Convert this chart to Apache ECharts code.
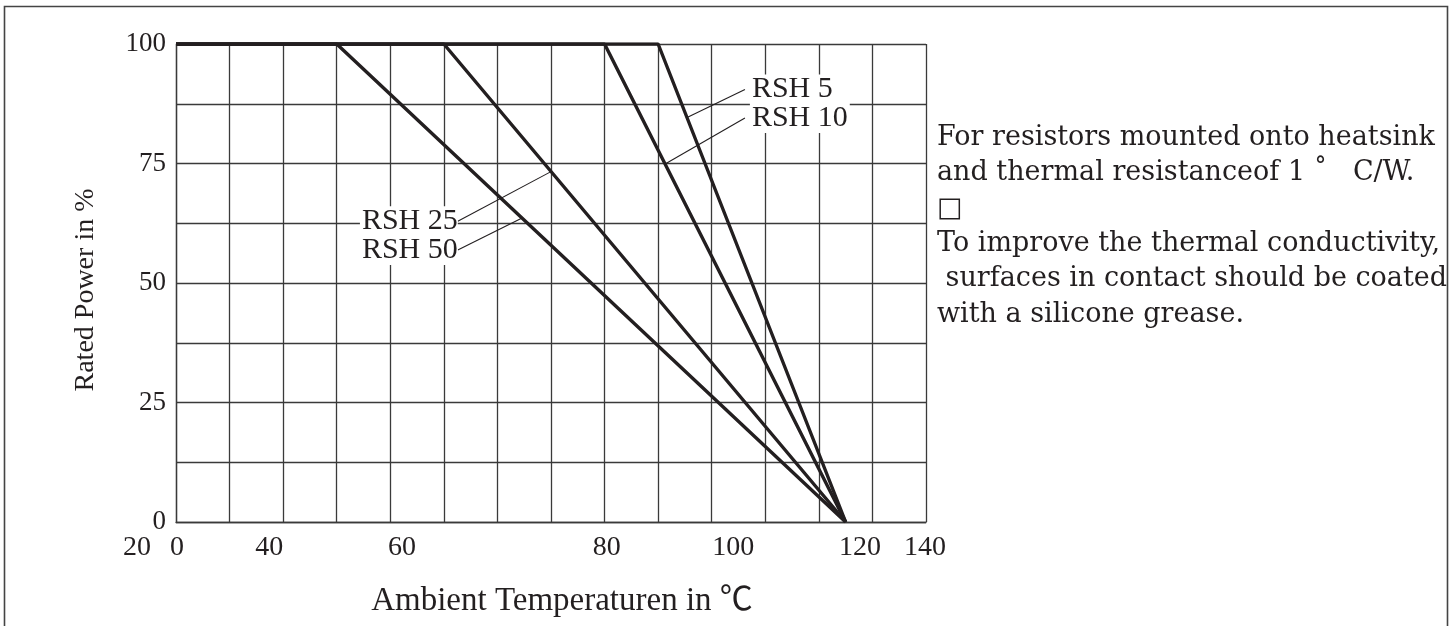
<!DOCTYPE html>
<html>
<head>
<meta charset="utf-8">
<script src="https://cdn.jsdelivr.net/npm/echarts@6/dist/echarts.min.js"></script>
<style>
html,body{margin:0;padding:0;background:#fff;}
#chart{width:1456px;height:626px;}
</style>
</head>
<body>
<div id="chart"></div>
<script>
// ---- data ----
const seriesNames = ['RSH 5', 'RSH 10', 'RSH 25', 'RSH 50'];
const kneeTemp = [90, 80, 50, 30];          // end of 100 % plateau
const zeroTemp = [125, 125, 125, 125];      // temperature at 0 %
const startTemp = 0;
const fullPower = 100;

// leader lines: point on curve -> label anchor
const leaderFromX = [95.4, 91.3, 70.0, 64.6];
const leaderFromY = [84.6, 74.9, 73.3, 63.6];
const leaderToX = [106.2, 106.2, 52.6, 52.6];
const leaderToY = [90.5, 84.5, 62.9, 56.9];

// x tick labels (as printed, at their printed positions)
const xTickLabels = ['20', '0', '40', '60', '80', '100', '120', '140'];
const xTickPos = [-7.3, 0.2, 17.4, 42.2, 80.4, 104.0, 127.7, 139.8];

const yTickLabels = [0, 25, 50, 75, 100];

const noteLines = [
  'For resistors mounted onto heatsink',
  'and thermal resistanceof 1 \u02da   C/W.',
  '\u25a1',
  'To improve the thermal conductivity,',
  ' surfaces in contact should be coated',
  'with a silicone grease.'
];

// ---- styles ----
const ink = '#231f20';
const gridColor = '#3a3a3a';
const serif = '"Liberation Serif", "Noto Sans CJK JP", serif';

const chart = echarts.init(document.getElementById('chart'));

const series = [];
seriesNames.forEach((name, i) => {
  series.push({
    name: name,
    type: 'line',
    symbol: 'none',
    z: 3,
    lineStyle: { color: ink, width: 3.4 },
    data: [[startTemp, fullPower], [kneeTemp[i], fullPower], [zeroTemp[i], 0]],
    markLine: {
      silent: true,
      symbol: ['none', 'none'],
      label: { show: false },
      lineStyle: { color: ink, width: 1.1, type: 'solid' },
      data: [[{ coord: [leaderFromX[i], leaderFromY[i]] }, { coord: [leaderToX[i], leaderToY[i]] }]]
    }
  });
});

// curve labels
series.push({
  type: 'scatter',
  symbolSize: 0,
  silent: true,
  z: 5,
  itemStyle: { opacity: 1 },
  data: seriesNames.map((name, i) => {
    const toLeft = leaderToX[i] < leaderFromX[i];
    return {
      value: [leaderToX[i], leaderToY[i]],
      label: {
        show: true,
        formatter: name,
        position: toLeft ? 'left' : 'right',
        distance: toLeft ? 0 : 5,
        fontFamily: serif,
        fontSize: 30,
        color: ink,
        opacity: 1,
        backgroundColor: '#fff',
        padding: toLeft ? [0, 0, 0, 2] : [0, 2, 0, 2]
      }
    };
  })
});

// x tick labels
series.push({
  type: 'scatter',
  symbolSize: 0,
  silent: true,
  clip: false,
  itemStyle: { opacity: 1 },
  data: xTickPos.map((p, i) => ({
    value: [p, 0],
    label: {
      show: true,
      formatter: xTickLabels[i],
      position: 'bottom',
      distance: 12,
      fontFamily: serif,
      fontSize: 28,
      color: ink,
      opacity: 1
    }
  }))
});

const option = {
  animation: false,
  backgroundColor: '#fff',
  grid: { left: 176, right: 530, top: 44, bottom: 104, containLabel: false },
  xAxis: {
    type: 'value',
    min: 0, max: 140, interval: 10,
    name: 'Ambient Temperaturen in \u2103',
    nameLocation: 'middle',
    nameGap: 63,
    nameTextStyle: { fontFamily: serif, fontSize: 33, color: ink, padding: [0, 0, 0, 22] },
    axisLine: { show: true, lineStyle: { color: gridColor, width: 1.3 } },
    axisTick: { show: false },
    axisLabel: { show: false },
    splitLine: { show: true, lineStyle: { color: gridColor, width: 1.3 } }
  },
  yAxis: {
    type: 'value',
    min: 0, max: 100, interval: 12.5,
    name: 'Rated Power in %',
    nameLocation: 'middle',
    nameGap: 76,
    nameRotate: 90,
    nameTextStyle: { fontFamily: serif, fontSize: 28, color: ink, padding: [0, 14, 0, 0] },
    axisLine: { show: true, lineStyle: { color: gridColor, width: 1.3 } },
    axisTick: { show: false },
    axisLabel: {
      margin: 10,
      fontFamily: serif,
      fontSize: 27,
      color: ink,
      formatter: v => (yTickLabels.indexOf(v) >= 0 ? String(v) : '')
    },
    splitLine: { show: true, lineStyle: { color: gridColor, width: 1.3 } }
  },
  graphic: [
    {
      type: 'rect',
      silent: true,
      shape: { x: 4.5, y: 6.5, width: 1443, height: 700 },
      style: { fill: 'none', stroke: '#444', lineWidth: 1.6 }
    },
    {
      type: 'text',
      left: 937,
      top: 120,
      silent: true,
      style: {
        text: noteLines.join('\n'),
        fontFamily: '"DejaVu Serif", serif',
        fontSize: 27,
        lineHeight: 35.4,
        fill: ink
      }
    }
  ],
  series: series
};

chart.setOption(option);
</script>
</body>
</html>
